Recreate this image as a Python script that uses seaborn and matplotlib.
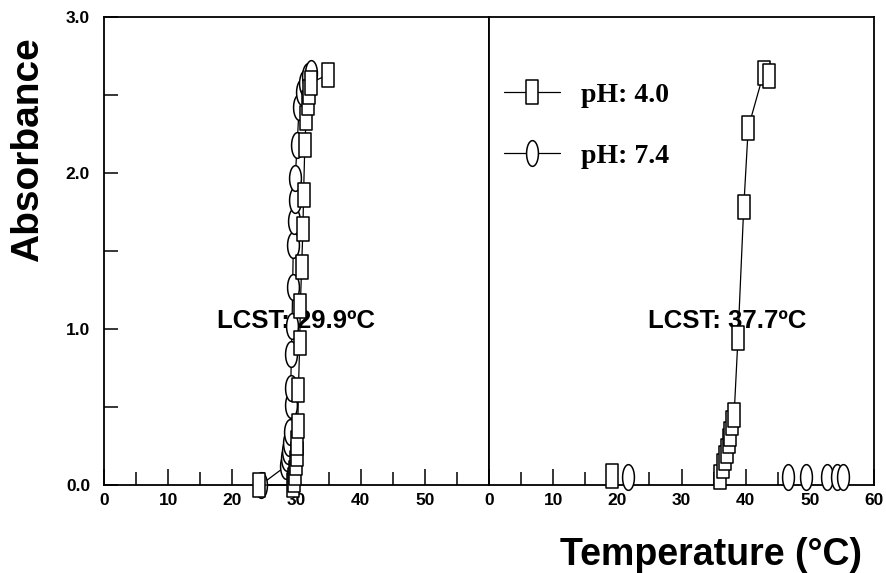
import numpy as np
import pandas as pd
import matplotlib
matplotlib.use("Agg")
import matplotlib.pyplot as plt
from matplotlib.path import Path
from matplotlib.lines import Line2D
from matplotlib.ticker import MultipleLocator
import seaborn as sns

# ---------------- data ----------------
# Left panel (LCST 29.9 ºC)
left_ph40_temp = [24.2, 29.4, 29.6, 29.8, 29.9, 30.0, 30.1, 30.2, 30.3, 30.5,
                  30.6, 30.8, 31.0, 31.1, 31.3, 31.5, 31.8, 32.0, 32.3, 34.9]
left_ph40_abs = [0.00, 0.00, 0.03, 0.08, 0.14, 0.20, 0.27, 0.38, 0.61, 0.91,
                 1.15, 1.40, 1.64, 1.86, 2.18, 2.35, 2.45, 2.52, 2.58, 2.63]
left_ph74_temp = [24.4, 28.3, 28.5, 28.6, 28.8, 29.0, 29.1, 29.1, 29.2, 29.3,
                  29.4, 29.5, 29.6, 29.7, 29.8, 30.1, 30.4, 30.8, 31.3, 31.8, 32.3]
left_ph74_abs = [0.00, 0.12, 0.17, 0.22, 0.27, 0.34, 0.51, 0.62, 0.84, 1.02,
                 1.27, 1.54, 1.69, 1.83, 1.97, 2.18, 2.42, 2.52, 2.58, 2.62, 2.64]

# Right panel (LCST 37.7 ºC)
right_ph40_temp = [36.0, 36.5, 36.8, 37.1, 37.4, 37.6, 37.9, 38.2, 38.8, 39.7,
                   40.4, 42.8, 43.7]
right_ph40_abs = [0.05, 0.12, 0.17, 0.22, 0.28, 0.33, 0.40, 0.45, 0.94, 1.78,
                  2.29, 2.64, 2.62]
right_ph40_single_temp = [19.2]
right_ph40_single_abs = [0.06]
right_ph74_temp = [21.7, 46.6, 49.4, 52.7, 54.2, 55.2]
right_ph74_abs = [0.05, 0.05, 0.05, 0.05, 0.05, 0.05]

series_labels = ["pH: 4.0", "pH: 7.4"]
lcst_labels = ["LCST: 29.9ºC", "LCST: 37.7ºC"]
lcst_temp = [29.9, 37.1]
lcst_abs = [1.05, 1.05]
x_ticks_left = [0, 10, 20, 30, 40, 50, 60]
x_labels_left = ["0", "10", "20", "30", "40", "50", ""]
x_ticks_right = [0, 10, 20, 30, 40, 50, 60]
x_labels_right = ["0", "10", "20", "30", "40", "50", "60"]
y_ticks = [0.0, 1.0, 2.0, 3.0]
y_labels = ["0.0", "1.0", "2.0", "3.0"]
x_label = "Temperature (°C)"
y_label = "Absorbance"

# ---------------- style ----------------
sns.set_style("ticks")
plt.rcParams["font.family"] = ["Liberation Sans", "DejaVu Sans"]
plt.rcParams["axes.linewidth"] = 1.3
for key in ("text.color", "axes.labelcolor", "xtick.color", "ytick.color",
            "axes.edgecolor", "xtick.labelcolor", "ytick.labelcolor"):
    plt.rcParams[key] = "black"

rect_path = Path([(-0.25, -0.5), (0.25, -0.5), (0.25, 0.5), (-0.25, 0.5), (-0.25, -0.5)],
                 [Path.MOVETO, Path.LINETO, Path.LINETO, Path.LINETO, Path.CLOSEPOLY])
_t = np.linspace(0, 2 * np.pi, 73)
ell_path = Path(np.column_stack([0.23 * np.cos(_t), 0.5 * np.sin(_t)]))

MS_RECT = 17.5
MS_ELL = 18.5

fig = plt.figure(figsize=(8.86, 5.73), dpi=100)
axL = fig.add_axes([104 / 886, 88 / 573, 385 / 886, 468 / 573])
axR = fig.add_axes([489 / 886, 88 / 573, 385 / 886, 468 / 573])

line_kw = dict(color="black", linewidth=0.9, mfc="white", mec="black", mew=1.1,
               clip_on=False, sort=False, estimator=None, legend=False)

# left panel
sns.lineplot(x=left_ph74_temp, y=left_ph74_abs, ax=axL, marker=ell_path,
             markersize=MS_ELL, zorder=3, **line_kw)
sns.lineplot(x=left_ph40_temp, y=left_ph40_abs, ax=axL, marker=rect_path,
             markersize=MS_RECT, zorder=4, **line_kw)

# right panel
sns.lineplot(x=right_ph40_temp, y=right_ph40_abs, ax=axR, marker=rect_path,
             markersize=MS_RECT, zorder=4, **line_kw)
sns.scatterplot(x=right_ph40_single_temp, y=right_ph40_single_abs, ax=axR,
                marker=rect_path, s=MS_RECT ** 2, facecolor="white",
                edgecolor="black", linewidth=1.1, zorder=4, clip_on=False, legend=False)
sns.scatterplot(x=right_ph74_temp, y=right_ph74_abs, ax=axR,
                marker=ell_path, s=MS_ELL ** 2, facecolor="white",
                edgecolor="black", linewidth=1.1, zorder=4, clip_on=False, legend=False)

for ax, xt, xl in ((axL, x_ticks_left, x_labels_left), (axR, x_ticks_right, x_labels_right)):
    ax.set_xlim(0, 60)
    ax.set_ylim(0, 3)
    ax.set_xticks(xt)
    ax.set_xticklabels(xl, fontweight="bold", fontsize=12.5)
    ax.xaxis.set_minor_locator(MultipleLocator(5))
    ax.tick_params(axis="x", which="major", direction="in", length=11.5, width=1.1,
                   pad=6, top=False, bottom=True)
    ax.tick_params(axis="x", which="minor", direction="in", length=9.5, width=1.1,
                   top=False, bottom=True)
    ax.set_xlabel("")
    ax.set_ylabel("")
    for sp in ax.spines.values():
        sp.set_visible(True)
        sp.set_color("black")

axL.set_yticks(y_ticks)
axL.set_yticklabels(y_labels, fontweight="bold", fontsize=12.5)
axL.yaxis.set_minor_locator(MultipleLocator(0.5))
axL.tick_params(axis="y", which="both", direction="in", length=10, width=1.1,
                pad=10, right=False)
axR.set_yticks([])
axR.tick_params(axis="y", which="both", left=False, right=False, labelleft=False)

# LCST annotations
axL.text(lcst_temp[0], lcst_abs[0], lcst_labels[0], ha="center", va="center",
         fontsize=18.5, fontweight="bold", zorder=2)
axR.text(lcst_temp[1], lcst_abs[1], lcst_labels[1], ha="center", va="center",
         fontsize=18.5, fontweight="bold", zorder=2)

# legend
handles = [
    Line2D([], [], color="black", linewidth=0.9, marker=rect_path, markersize=MS_RECT,
           mfc="white", mec="black", mew=1.1),
    Line2D([], [], color="black", linewidth=0.9, marker=ell_path, markersize=MS_ELL,
           mfc="white", mec="black", mew=1.1),
]
axR.legend(handles, series_labels, loc="center left", bbox_to_anchor=(0.04, 0.768),
           frameon=False, borderaxespad=0, borderpad=0, handlelength=2.0,
           handletextpad=0.75, labelspacing=1.3,
           prop={"family": ["Liberation Serif", "DejaVu Serif"], "weight": "bold", "size": 20})

# axis titles
fig.text(28 / 886, 1 - 150 / 573, y_label, rotation=90, ha="center", va="center",
         fontsize=28, fontweight="bold")
fig.text(862 / 886, 1 - 565 / 573, x_label, ha="right", va="baseline",
         fontsize=27, fontweight="bold")

fig.savefig("out.png", dpi=100)
